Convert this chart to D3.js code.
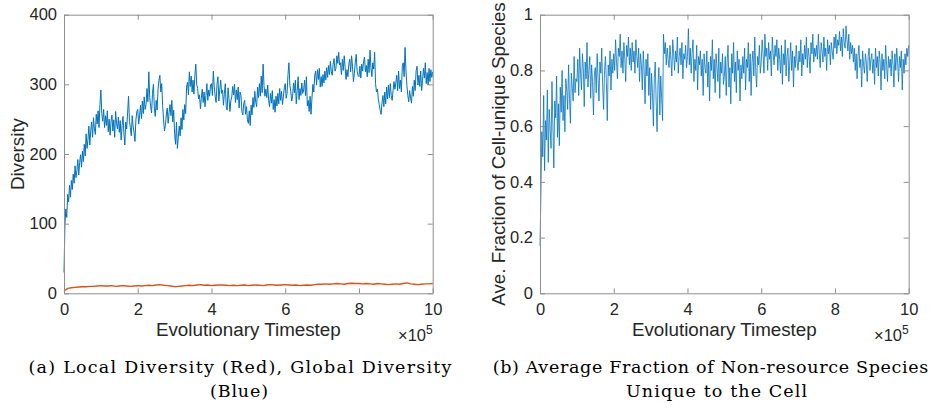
<!DOCTYPE html>
<html>
<head>
<meta charset="utf-8">
<script src="https://cdn.jsdelivr.net/npm/d3@7"></script>
<style>
  html, body { margin: 0; padding: 0; background: #fff; }
  svg { display: block; }
</style>
</head>
<body>
<svg id="chart" width="942" height="409"></svg>
<script>
// ---------------- DATA ----------------
const xTickValues = [0, 2, 4, 6, 8, 10];           // ×10^5
const leftYTicks = [0, 100, 200, 300, 400];
const rightYTicks = [0, 0.2, 0.4, 0.6, 0.8, 1];

// Global diversity (blue), sampled every 0.025 ×10^5 timesteps
const globalStep = 0.025;
const globalDiversity = [
  30, 98, 121, 109, 142, 131, 155, 138, 162, 149, 171, 158, 183, 166, 176, 192, 170, 188, 199, 181,
  204, 189, 214, 197, 229, 208, 221, 240, 213, 233, 246, 224, 252, 236, 228, 257, 243, 262, 238, 271,
  292, 258, 247, 264, 238, 255, 241, 262, 232, 250, 227, 246, 256, 233, 249, 224, 261, 244, 236, 253,
  231, 248, 220, 241, 254, 229, 213, 246, 236, 259, 283, 247, 238, 226, 255, 240, 231, 218, 249, 261,
  264, 243, 255, 270, 251, 276, 258, 282, 264, 271, 294, 275, 318, 281, 268, 259, 287, 300, 266, 254,
  277, 263, 292, 306, 313, 289, 301, 270, 249, 233, 241, 256, 266, 244, 260, 271, 255, 277, 246, 263,
  229, 214, 246, 208, 224, 240, 226, 252, 235, 264, 249, 271, 258, 296, 303, 285, 318, 297, 312, 289,
  306, 286, 313, 329, 300, 294, 279, 285, 265, 280, 293, 274, 289, 268, 284, 301, 277, 292, 283, 299,
  301, 284, 319, 297, 283, 274, 300, 311, 276, 292, 306, 287, 292, 270, 287, 301, 268, 263, 295, 279,
  261, 276, 282, 297, 285, 300, 274, 292, 278, 296, 266, 289, 284, 261, 256, 272, 277, 257, 268, 249,
  244, 262, 241, 270, 256, 281, 267, 290, 274, 268, 296, 281, 301, 283, 312, 288, 329, 298, 283, 293,
  281, 299, 277, 268, 287, 273, 291, 264, 278, 260, 283, 269, 287, 272, 294, 277, 290, 271, 282, 295,
  301, 280, 287, 314, 331, 299, 290, 276, 283, 302, 288, 306, 272, 291, 311, 278, 294, 284, 302, 287,
  292, 306, 284, 311, 269, 277, 261, 283, 257, 280, 300, 289, 313, 319, 299, 321, 307, 323, 296, 311,
  297, 314, 302, 319, 306, 324, 310, 327, 314, 333, 318, 313, 329, 337, 319, 323, 341, 330, 346, 328,
  331, 314, 336, 320, 341, 324, 307, 321, 311, 329, 336, 318, 341, 326, 304, 316, 331, 343, 319, 313,
  311, 326, 309, 329, 319, 333, 339, 318, 327, 311, 336, 317, 349, 324, 311, 331, 322, 346, 301, 289,
  293, 279, 271, 263, 257, 274, 284, 268, 289, 272, 296, 279, 299, 281, 301, 284, 277, 291, 304, 293,
  302, 313, 291, 319, 294, 306, 289, 326, 331, 311, 353, 319, 298, 284, 275, 291, 280, 273, 297, 283,
  306, 291, 319, 326, 299, 313, 297, 319, 291, 306, 323, 309, 331, 301, 317, 299, 323, 304, 321, 310,
  318
];

// Local diversity (red), sampled every 0.1 ×10^5 timesteps
const localStep = 0.1;
const localDiversity = [
  3, 7, 8, 8.5, 9, 9.5, 9.5, 10, 10, 10.5,
  11, 10.5, 10.5, 11, 10, 10.5, 11, 10.5, 10, 10.5,
  11, 10.5, 11, 11.5, 11, 12, 12.5, 11.5, 11, 10.5,
  9.5, 10, 10.5, 11, 11.5, 11, 12, 12.5, 11.5, 12,
  11, 11.5, 12, 12, 11.5, 11, 11.5, 11, 11.5, 12,
  11, 11.5, 12, 11.5, 11, 12, 12.5, 12, 11.5, 12,
  12.5, 12, 11.5, 12, 11, 11.5, 12, 11.5, 12.5, 13,
  13, 13.5, 13, 13.5, 14, 13.5, 13, 14, 14.5, 14,
  14, 13.5, 14, 13.5, 13, 14, 13.5, 13, 12.5, 13,
  13.5, 13, 14, 15, 13.5, 13, 12.5, 13, 13.5, 13.5,
  14
];

// Average fraction of cell-unique species, sampled every 0.025 ×10^5 timesteps
const fractionStep = 0.025;
const uniqueFraction = [
  0.17, 0.36, 0.58, 0.49, 0.71, 0.44, 0.62, 0.55, 0.73, 0.47, 0.66, 0.59, 0.52, 0.76, 0.60, 0.45, 0.69, 0.63, 0.78, 0.56,
  0.68, 0.53, 0.74, 0.65, 0.80, 0.62, 0.71, 0.58, 0.77, 0.73, 0.66, 0.82, 0.70, 0.61, 0.79, 0.74, 0.69, 0.85, 0.72, 0.77,
  0.76, 0.84, 0.71, 0.88, 0.79, 0.73, 0.86, 0.81, 0.67, 0.83, 0.77, 0.90, 0.74, 0.80, 0.85, 0.70, 0.82, 0.76, 0.64, 0.79,
  0.81, 0.72, 0.86, 0.77, 0.69, 0.83, 0.79, 0.88, 0.74, 0.66, 0.80, 0.85, 0.76, 0.62, 0.82, 0.78, 0.87, 0.73, 0.84, 0.79,
  0.86, 0.80, 0.91, 0.83, 0.77, 0.88, 0.85, 0.93, 0.81, 0.87, 0.79, 0.90, 0.84, 0.76, 0.89, 0.85, 0.92, 0.82, 0.88, 0.80,
  0.90, 0.83, 0.87, 0.79, 0.91, 0.85, 0.81, 0.88, 0.76, 0.86, 0.82, 0.73, 0.87, 0.80, 0.68, 0.84, 0.78, 0.86, 0.71, 0.81,
  0.66, 0.79, 0.72, 0.60, 0.77, 0.83, 0.69, 0.58, 0.75, 0.81, 0.64, 0.78, 0.70, 0.62, 0.93, 0.86, 0.90, 0.82, 0.88, 0.84,
  0.81, 0.89, 0.84, 0.78, 0.91, 0.86, 0.80, 0.87, 0.83, 0.92, 0.79, 0.85, 0.88, 0.82, 0.90, 0.77, 0.86, 0.84, 0.89, 0.81,
  0.85, 0.95, 0.82, 0.88, 0.79, 0.86, 0.91, 0.76, 0.84, 0.80, 0.89, 0.73, 0.85, 0.82, 0.87, 0.78, 0.84, 0.71, 0.86, 0.81,
  0.79, 0.87, 0.74, 0.83, 0.69, 0.85, 0.80, 0.91, 0.77, 0.84, 0.72, 0.86, 0.81, 0.76, 0.88, 0.70, 0.83, 0.79, 0.86, 0.75,
  0.78, 0.85, 0.71, 0.83, 0.89, 0.74, 0.81, 0.68, 0.86, 0.79, 0.90, 0.76, 0.83, 0.72, 0.87, 0.80, 0.84, 0.69, 0.82, 0.77,
  0.85, 0.79, 0.88, 0.73, 0.84, 0.81, 0.90, 0.76, 0.86, 0.71, 0.83, 0.87, 0.78, 0.92, 0.80, 0.74, 0.85, 0.82, 0.89, 0.79,
  0.83, 0.91, 0.86, 0.79, 0.93, 0.85, 0.88, 0.80, 0.90, 0.84, 0.87, 0.78, 0.92, 0.86, 0.82, 0.89, 0.85, 0.91, 0.80, 0.88,
  0.84, 0.79, 0.89, 0.75, 0.86, 0.82, 0.91, 0.78, 0.85, 0.88, 0.76, 0.83, 0.90, 0.80, 0.87, 0.74, 0.85, 0.81, 0.89, 0.83,
  0.80, 0.87, 0.83, 0.91, 0.78, 0.86, 0.82, 0.89, 0.84, 0.92, 0.81, 0.88, 0.85, 0.79, 0.90, 0.86, 0.93, 0.83, 0.88, 0.85,
  0.89, 0.84, 0.93, 0.86, 0.81, 0.90, 0.87, 0.83, 0.92, 0.85, 0.88, 0.80, 0.91, 0.86, 0.89, 0.82, 0.90, 0.87, 0.84, 0.92,
  0.88, 0.93, 0.86, 0.91, 0.89, 0.94, 0.87, 0.92, 0.85, 0.95, 0.90, 0.88, 0.96, 0.91, 0.87, 0.93, 0.84, 0.90, 0.86, 0.89,
  0.83, 0.88, 0.80, 0.86, 0.77, 0.85, 0.89, 0.81, 0.84, 0.74, 0.87, 0.82, 0.79, 0.86, 0.83, 0.76, 0.85, 0.88, 0.80, 0.84,
  0.86, 0.79, 0.84, 0.75, 0.88, 0.81, 0.85, 0.78, 0.87, 0.83, 0.73, 0.86, 0.80, 0.84, 0.77, 0.89, 0.82, 0.76, 0.85, 0.81,
  0.84, 0.78, 0.87, 0.82, 0.74, 0.86, 0.80, 0.88, 0.83, 0.76, 0.85, 0.81, 0.87, 0.73, 0.84, 0.79, 0.86, 0.82, 0.88, 0.85,
  0.89
];

const xLabel = "Evolutionary Timestep";
const leftYLabel = "Diversity";
const rightYLabel = "Ave. Fraction of Cell-unique Species";
const captionA = ["(a) Local Diversity (Red), Global Diversity", "(Blue)"];
const captionB = ["(b) Average Fraction of Non-resource Species", "Unique to the Cell"];

// ---------------- DRAW ----------------
const svg = d3.select("#chart");
const BLUE = "#0072BD", RED = "#D95319";
const AXIS_COLOR = "#8f8f8f", TEXT_COLOR = "#262626";
const tickFont = "'Liberation Sans', Arial, Helvetica, sans-serif";
const captionFont = "'DejaVu Serif', serif";

function panel(opts) {
  const { left, right, top, bottom, yDomain, yTicks, yFmt, yLabel, yLabelX, series, caption, capCenters, capWidths } = opts;
  const x = d3.scaleLinear().domain([0, 10]).range([left, right]);
  const y = d3.scaleLinear().domain(yDomain).range([bottom, top]);
  const g = svg.append("g");

  series.forEach(s => {
    const line = d3.line().x((d, i) => x(i * s.step)).y(d => y(d));
    g.append("path").datum(s.values)
      .attr("fill", "none").attr("stroke", s.color)
      .attr("stroke-width", s.width).attr("stroke-linejoin", "round")
      .attr("d", line);
  });

  const tickLen = 5;
  const gb = g.append("g").attr("transform", `translate(0,${bottom})`)
    .call(d3.axisBottom(x).tickValues(xTickValues).tickFormat(d3.format("d"))
      .tickSizeInner(-tickLen).tickSizeOuter(0).tickPadding(10));
  const gt = g.append("g").attr("transform", `translate(0,${top})`)
    .call(d3.axisTop(x).tickValues(xTickValues).tickFormat("")
      .tickSizeInner(-tickLen).tickSizeOuter(0));
  const gl = g.append("g").attr("transform", `translate(${left},0)`)
    .call(d3.axisLeft(y).tickValues(yTicks).tickFormat(yFmt)
      .tickSizeInner(-tickLen).tickSizeOuter(0).tickPadding(7));
  const gr = g.append("g").attr("transform", `translate(${right},0)`)
    .call(d3.axisRight(y).tickValues(yTicks).tickFormat("")
      .tickSizeInner(-tickLen).tickSizeOuter(0));

  [gb, gt, gl, gr].forEach(a => {
    a.selectAll("path.domain").attr("stroke", AXIS_COLOR).attr("stroke-width", 1);
    a.selectAll(".tick line").attr("stroke", AXIS_COLOR).attr("stroke-width", 1);
    a.selectAll(".tick text").attr("fill", TEXT_COLOR)
      .style("font-family", tickFont).style("font-size", "16.5px");
  });

  g.append("text").attr("x", (left + right) / 2).attr("y", 336)
    .attr("text-anchor", "middle").attr("fill", TEXT_COLOR)
    .style("font-family", tickFont).style("font-size", "18.8px").text(xLabel);
  const ex = g.append("text").attr("x", right).attr("y", 341)
    .attr("text-anchor", "end").attr("fill", TEXT_COLOR)
    .style("font-family", tickFont).style("font-size", "16.5px");
  ex.append("tspan").text("×10");
  ex.append("tspan").attr("dy", -7).style("font-size", "12px").text("5");

  g.append("text")
    .attr("transform", `translate(${yLabelX},${(top + bottom) / 2}) rotate(-90)`)
    .attr("text-anchor", "middle").attr("fill", TEXT_COLOR)
    .style("font-family", tickFont).style("font-size", "18.8px").text(yLabel);

  const capY = [372.5, 396.5];
  caption.forEach((c, i) => {
    g.append("text").attr("x", capCenters[i]).attr("y", capY[i])
      .attr("text-anchor", "middle").attr("fill", "#000")
      .attr("textLength", capWidths[i]).attr("lengthAdjust", "spacing")
      .style("font-family", captionFont).style("font-size", "17.5px").text(c);
  });
}

panel({
  left: 64, right: 432.7, top: 14.7, bottom: 293.3,
  yDomain: [0, 400], yTicks: leftYTicks, yFmt: d3.format("d"),
  yLabel: leftYLabel, yLabelX: 24,
  series: [
    { values: globalDiversity, step: globalStep, color: BLUE, width: 1 },
    { values: localDiversity, step: localStep, color: RED, width: 1.4 }
  ],
  caption: captionA, capCenters: [240, 239], capWidths: [423, 58]
});

panel({
  left: 540, right: 908.7, top: 14.7, bottom: 293.3,
  yDomain: [0, 1], yTicks: rightYTicks, yFmt: d => (d === 0 || d === 1) ? String(d) : d3.format(".1f")(d),
  yLabel: rightYLabel, yLabelX: 505,
  series: [
    { values: uniqueFraction, step: fractionStep, color: BLUE, width: 0.8 }
  ],
  caption: captionB, capCenters: [710.5, 716.5], capWidths: [435.7, 181]
});
</script>
</body>
</html>
